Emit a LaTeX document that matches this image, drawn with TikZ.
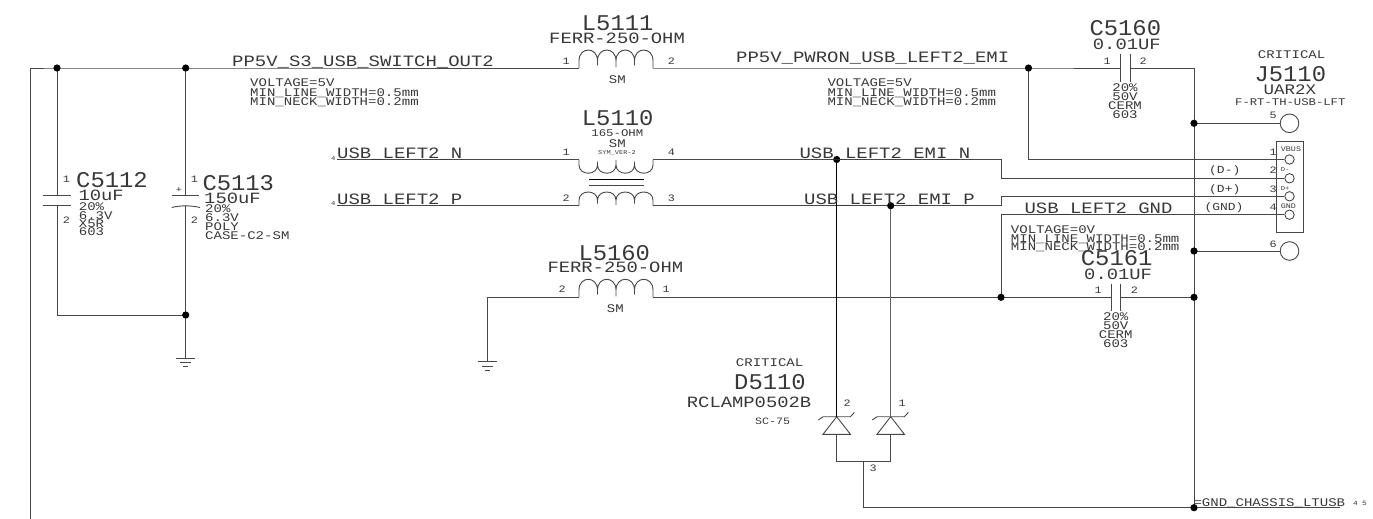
\documentclass[tikz,border=0pt]{standalone}
\usepackage{fontspec}
\newfontfamily\schfont[FakeStretch=1.2]{Liberation Mono}
\newfontfamily\reffont[FakeStretch=1.06]{Liberation Mono}
\usepackage{tikz}
\def\junc(#1){\fill[black] (#1) circle (3.6);}
\tikzset{
	wire/.style={line width=0.9pt, color=black!72},
	lbl/.style={inner sep=0pt, anchor=base west, text=black!78, font=\schfont\fontsize{#1}{#1}\selectfont},
	lblc/.style={lbl=#1, anchor=base},
	refname/.style={inner sep=0pt, anchor=base west, text=black!78, font=\reffont\fontsize{22.5}{22.5}\selectfont},
	valtxt/.style={lbl=15.7},
	nettxt/.style={lbl=15.8},
	attr/.style={lbl=11.7},
	attrc/.style={lblc=11.7},
	pinnum/.style={lbl=9.8},
	pinbig/.style={draw=black!72, line width=0.9pt, circle, inner sep=0pt, minimum size=18.6pt},
	pinsmall/.style={draw=black!72, line width=0.9pt, circle, inner sep=0pt, minimum size=9.4pt},
	coilsym/.pic={
		\draw[wire] (0,0) -- (0,-0.4*#1) .. controls (0,-1.2*#1) and (18.5,-1.2*#1) .. (18.5,-0.4*#1)
			-- (18.5,-0.15*#1) -- (18.5,-0.4*#1) .. controls (18.5,-1.2*#1) and (37,-1.2*#1) .. (37,-0.4*#1)
			-- (37,-0.05*#1) -- (37,-0.4*#1) .. controls (37,-1.2*#1) and (55.5,-1.2*#1) .. (55.5,-0.4*#1)
			-- (55.5,-0.15*#1) -- (55.5,-0.4*#1) .. controls (55.5,-1.2*#1) and (74,-1.2*#1) .. (74,-0.4*#1) -- (74,0);
		\coordinate (-a) at (0,0);
		\coordinate (-b) at (74,0);
	},
	capsym/.pic={
		\draw[wire] (0,-13.7) -- (0,13.7);
		\draw[wire] (#1,-13.7) -- (#1,13.7);
		\coordinate (-a) at (0,0);
		\coordinate (-b) at (#1,0);
	},
	gndsym/.pic={
		\draw[wire] (-9.3,0) -- (9.3,0);
		\draw[wire] (-5.3,4.5) -- (5.3,4.5);
		\draw[wire] (-2.6,8.5) -- (2.6,8.5);
		\coordinate (-t) at (0,0);
	},
	zenersym/.pic={
		\draw[wire] (-18.4,3.3) -- (-13.7,0) -- (13.7,0) -- (17.7,-4.3);
		\draw[wire] (-13.7,17.6) -- (13.7,17.6) -- (0,0) -- cycle;
		\coordinate (-k) at (0,0);
		\coordinate (-a) at (0,17.6);
	},
}

\begin{document}
\begin{tikzpicture}[x=1pt, y=-1pt]
	%%%%% START %%%%%
	\useasboundingbox (0,0) rectangle (1373,519);

	\coordinate (railL) at (30,68);
	\coordinate (railB) at (30,519);
	\coordinate (jA) at (57,68);
	\coordinate (jB) at (185.7,68);
	\coordinate (jC) at (1028.5,68);
	\coordinate (railR) at (1194,68);
	\coordinate (jShell5) at (1194,123.3);
	\coordinate (jShell6) at (1194,251);
	\coordinate (jGndR) at (1194,297.3);
	\coordinate (jChassis) at (1194,507.7);
	\coordinate (jGndL) at (1001,297.3);
	\coordinate (jBot) at (185.7,315);
	\coordinate (cornBot) at (57,315);
	\coordinate (jN) at (836.7,159.5);
	\coordinate (jP) at (890.7,205.7);
	\coordinate (nStart) at (337,159.5);
	\coordinate (pStart) at (337,205.7);
	\coordinate (nBendA) at (1001,159.5);
	\coordinate (nBendB) at (1001,178.3);
	\coordinate (pBendA) at (1001,205.7);
	\coordinate (pBendB) at (1001,196.3);
	\coordinate (vbusBend) at (1028.5,159.5);
	\coordinate (gndBend) at (1001,214.7);
	\coordinate (l60Bend) at (487.7,297.3);
	\coordinate (dLeftB) at (836.7,461.7);
	\coordinate (dRightB) at (890.7,461.7);
	\coordinate (dMid) at (863.7,461.7);
	\coordinate (dMidB) at (863.7,507.7);
	\coordinate (chassisEnd) at (1340,507.7);
	\coordinate (c13top) at (185.7,195.7);
	\coordinate (c13bot) at (185.7,206);

	% symbols
	\pic (C5112) at (57,195.7) [rotate=-90] {capsym=10};
	\draw[wire] (171.7,195.7) -- (199,195.7);
	\draw[wire] (171.7,207.5) .. controls (180,205.3) and (191,205.3) .. (200,207.5);
	\pic (C5160) at (1120,68) {capsym=10};
	\pic (C5161) at (1111.3,297.3) {capsym=8.7};
	\pic (L5111) at (579,68) {coilsym=18};
	\pic (L5110a) at (579,159.5) [yscale=-1] {coilsym=13.7};
	\pic (L5110b) at (579,205.7) {coilsym=13.7};
	\pic (L5160) at (579,297.3) {coilsym=18};
	\pic (GNDa) at (185.7,358) {gndsym};
	\pic (GNDb) at (487.7,361.7) {gndsym};
	\pic (D2) at (836.7,416.7) {zenersym};
	\pic (D1) at (890.7,416.7) {zenersym};
	\draw[wire, color=black] (589,179.3) -- (644,179.3);
	\draw[wire] (589,185) -- (644,185);

	% connector
	\node[draw=black!72, line width=0.9pt, inner sep=0pt, minimum width=27.4pt, minimum height=91.3pt] (J5110box) at (1290,186.6) {};
	\node[pinbig] (pin5) at (1289.5,123.3) {};
	\node[pinbig] (pin6) at (1289.5,251) {};
	\node[pinsmall] (pin1) at (1289.5,159.5) {};
	\node[pinsmall] (pin2) at (1289.5,178.3) {};
	\node[pinsmall] (pin3) at (1289.5,196.3) {};
	\node[pinsmall] (pin4) at (1289.5,214.7) {};

	% wires
	\draw[wire] (railB) -- (railL) -- (jA) -- (jB) -- (L5111-a);
	\draw[wire] (L5111-b) -- (jC) -- (C5160-a);
	\draw[wire] (C5160-b) -- (railR) -- (jShell5) -- (jShell6) -- (jGndR) -- (jChassis);
	\draw[wire] (jA) -- (C5112-a);
	\draw[wire] (C5112-b) -- (cornBot) -- (jBot);
	\draw[wire] (jB) -- (c13top);
	\draw[wire] (c13bot) -- (jBot) -- (GNDa-t);
	\draw[wire] (jShell5) -- (pin5.west);
	\draw[wire] (jShell6) -- (pin6.west);
	\draw[wire] (jC) -- (vbusBend) -- (pin1.west);
	\draw[wire] (nStart) -- (L5110a-a);
	\draw[wire] (L5110a-b) -- (jN) -- (nBendA) -- (nBendB) -- (pin2.west);
	\draw[wire] (pStart) -- (L5110b-a);
	\draw[wire] (L5110b-b) -- (jP) -- (pBendA) -- (pBendB) -- (pin3.west);
	\draw[wire] (GNDb-t) -- (l60Bend) -- (L5160-a);
	\draw[wire] (L5160-b) -- (jGndL) -- (C5161-a);
	\draw[wire] (C5161-b) -- (jGndR);
	\draw[wire] (jGndL) -- (gndBend) -- (pin4.west);
	\draw[wire, color=black] (jN) -- (D2-k);
	\draw[wire, line width=1.2pt, color=black!60] (jP) -- (D1-k);
	\draw[wire] (D2-a) -- (dLeftB) -- (dMid) -- (dRightB) -- (D1-a);
	\draw[wire] (dMid) -- (dMidB) -- (jChassis) -- (chassisEnd);

	\junc(jA);
	\junc(jB);
	\junc(jBot);
	\junc(jC);
	\junc(jShell5);
	\junc(jShell6);
	\junc(jGndL);
	\junc(jGndR);
	\junc(jChassis);
	\junc(jN);
	\junc(jP);

	% ref names
	\node[refname] (tC5112) at (76,187.3) {C5112};
	\node[refname] (tC5113) at (202.3,190.7) {C5113};
	\node[refname] (tL5111) at (581.7,30.7) {L5111};
	\node[refname] (tL5110) at (581.7,125.7) {L5110};
	\node[refname] (tL5160) at (578.3,260) {L5160};
	\node[refname] (tC5160) at (1089.3,36) {C5160};
	\node[refname] (tC5161) at (1080.7,265) {C5161};
	\node[refname] (tJ5110) at (1254.3,81.7) {J5110};
	\node[refname] (tD5110) at (734,389) {D5110};

	% values
	\node[valtxt] (vL5111) at (549,43.3) {FERR-250-OHM};
	\node[valtxt] (vL5160) at (547.3,272.3) {FERR-250-OHM};
	\node[valtxt] (vD5110) at (686.7,407.7) {RCLAMP0502B};
	\node[valtxt] (vC5160) at (1092.7,50) {0.01UF};
	\node[valtxt] (vC5161) at (1084,279.3) {0.01UF};
	\node[valtxt] (vC5112) at (78.3,200.7) {10uF};
	\node[valtxt] (vC5113) at (204,203.3) {150uF};
	\node[lbl=14.6] (vJ5110) at (1263.3,94.7) {UAR2X};

	% nets
	\node[nettxt] (nOut2) at (232,66.7) {PP5V\_S3\_USB\_SWITCH\_OUT2};
	\node[nettxt] (nEmi) at (736,62.3) {PP5V\_PWRON\_USB\_LEFT2\_EMI};
	\node[nettxt] (nN) at (337,158.3) {USB\_LEFT2\_N};
	\node[nettxt] (nP) at (337,204) {USB\_LEFT2\_P};
	\node[nettxt] (nEmiN) at (799.3,158.3) {USB\_LEFT2\_EMI\_N};
	\node[nettxt] (nEmiP) at (804,204) {USB\_LEFT2\_EMI\_P};
	\node[nettxt] (nGnd) at (1024.3,213.3) {USB\_LEFT2\_GND};

	% constraints
	\node[attr] (a1) at (250,86) {VOLTAGE=5V};
	\node[attr] (a2) at (250,96) {MIN\_LINE\_WIDTH=0.5mm};
	\node[attr] (a3) at (250,105) {MIN\_NECK\_WIDTH=0.2mm};
	\node[attr] (b1) at (827.3,86) {VOLTAGE=5V};
	\node[attr] (b2) at (827.3,96) {MIN\_LINE\_WIDTH=0.5mm};
	\node[attr] (b3) at (827.3,105) {MIN\_NECK\_WIDTH=0.2mm};
	\node[attr] (e1) at (1010.7,233.3) {VOLTAGE=0V};
	\node[attr] (e2) at (1010.7,242.3) {MIN\_LINE\_WIDTH=0.5mm};
	\node[attr] (e3) at (1010.7,250.7) {MIN\_NECK\_WIDTH=0.2mm};

	% part attributes
	\node[attr] (c1) at (78.7,210.7) {20\%};
	\node[attr] (c2) at (78.7,219.3) {6.3V};
	\node[attr] (c3) at (78.7,227.3) {X5R};
	\node[attr] (c4) at (78.7,235.7) {603};
	\node[attr] (d1) at (205,212.7) {20\%};
	\node[attr] (d2) at (205,221.7) {6.3V};
	\node[attr] (d3) at (205,230) {POLY};
	\node[attr] (d4) at (205,239) {CASE-C2-SM};
	\node[attrc] (f1) at (1125,91.7) {20\%};
	\node[attrc] (f2) at (1125,100) {50V};
	\node[attrc] (f3) at (1125,109.3) {CERM};
	\node[attrc] (f4) at (1125,118.3) {603};
	\node[attrc] (g1) at (1115.7,320) {20\%};
	\node[attrc] (g2) at (1115.7,329) {50V};
	\node[attrc] (g3) at (1115.7,338.3) {CERM};
	\node[attrc] (g4) at (1115.7,347.3) {603};
	\node[attrc] (sm1) at (617.3,83.3) {SM};
	\node[lblc=10.3] (ohm) at (617.3,136) {165-OHM};
	\node[attrc] (sm2) at (617.3,147.3) {SM};
	\node[lblc=5.8] (sym) at (617,154.3) {SYM\_VER-2};
	\node[attrc] (sm3) at (615.3,312.3) {SM};
	\node[attr] (crit1) at (735.7,366) {CRITICAL};
	\node[lbl=9.7] (pkgD) at (755,424.3) {SC-75};
	\node[attr] (crit2) at (1257.7,59) {CRITICAL};
	\node[lbl=10.2] (pkgJ) at (1235,105) {F-RT-TH-USB-LFT};
	\node[lbl=10.8] (sigDm) at (1209,173.3) {(D-)};
	\node[lbl=10.8] (sigDp) at (1209,192.3) {(D+)};
	\node[lbl=10.8] (sigG) at (1204.3,210) {(GND)};
	\node[attr] (chassis) at (1193.3,506.7) {=GND\_CHASSIS\_LTUSB};
	\node[lbl=6.5] (pg4) at (1353,505.7) {4};
	\node[lbl=6.5] (pg5) at (1362,505.7) {5};

	% pin numbers
	\node[pinnum] (p12a) at (62.7,182.7) {1};
	\node[pinnum] (p12b) at (62.7,223.3) {2};
	\node[pinnum] (p13a) at (190.7,182.7) {1};
	\node[pinnum] (p13b) at (190.7,223.3) {2};
	\node[lbl=8.5] (plus) at (175.6,192) {+};
	\node[pinnum] (p11a) at (562.3,64) {1};
	\node[pinnum] (p11b) at (667.7,64) {2};
	\node[pinnum] (p10a) at (562.3,155) {1};
	\node[pinnum] (p10d) at (667.7,155) {4};
	\node[pinnum] (p10b) at (562.3,201) {2};
	\node[pinnum] (p10c) at (667.7,201) {3};
	\node[pinnum] (p60b) at (558.3,292.7) {2};
	\node[pinnum] (p60a) at (662.3,292.7) {1};
	\node[pinnum] (p160a) at (1103.3,64) {1};
	\node[pinnum] (p160b) at (1139.3,64) {2};
	\node[pinnum] (p161a) at (1094.3,293.3) {1};
	\node[pinnum] (p161b) at (1130.7,293.3) {2};
	\node[pinnum] (pJ5) at (1269.3,118.3) {5};
	\node[pinnum] (pJ6) at (1269.3,247.3) {6};
	\node[pinnum] (pJ1) at (1269.3,155) {1};
	\node[pinnum] (pJ2) at (1269.3,173.3) {2};
	\node[pinnum] (pJ3) at (1269.3,192.3) {3};
	\node[pinnum] (pJ4) at (1269.3,210) {4};
	\node[pinnum] (pD2) at (843.3,406.7) {2};
	\node[pinnum] (pD1) at (898.3,406.7) {1};
	\node[pinnum] (pD3) at (869.3,471.7) {3};
	\node[lbl=6] (pgN) at (331,160) {4};
	\node[lbl=6] (pgP) at (331,205.7) {4};

	% connector pin names
	\node[lbl=7] (nVbus) at (1280.7,151.7) {VBUS};
	\node[lbl=6] (nDm) at (1280.7,171.7) {D-};
	\node[lbl=6] (nDp) at (1280.7,190) {D+};
	\node[lbl=7] (nGndP) at (1280.7,208.3) {GND};
	%%%%% END %%%%%
\end{tikzpicture}
\end{document}
